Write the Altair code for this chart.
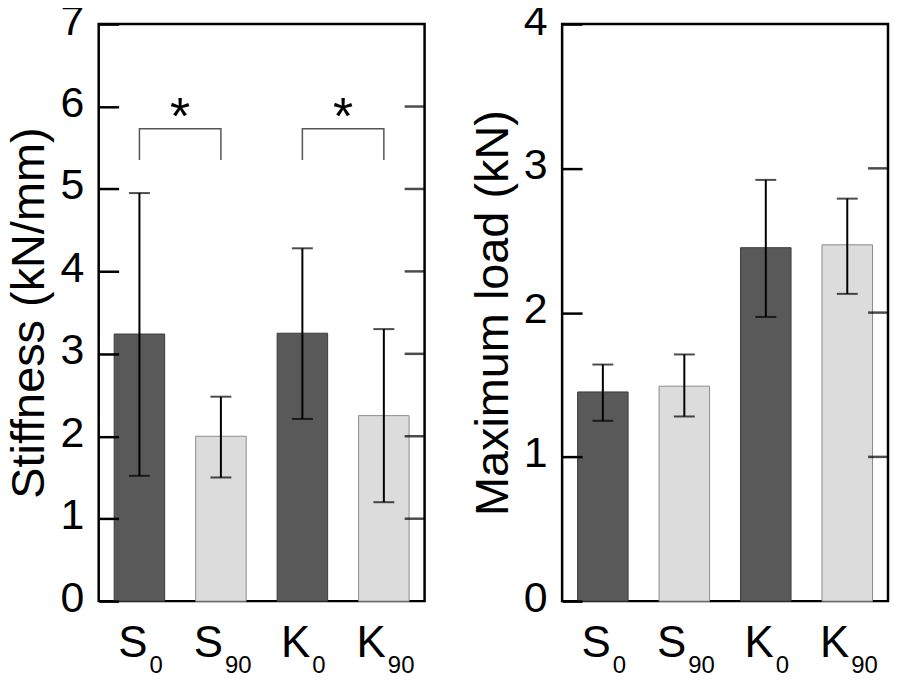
import altair as alt
import pandas as pd

# ---------------- data ----------------
categories = ["S0", "S90", "K0", "K90"]
label_main = ["S", "S", "K", "K"]
label_sub = ["0", "90", "0", "90"]
group = ["0", "90", "0", "90"]

stiff_mean = [3.24, 2.00, 3.25, 2.25]
stiff_low = [1.52, 1.50, 2.21, 1.20]
stiff_high = [4.95, 2.48, 4.28, 3.30]

load_mean = [1.45, 1.49, 2.45, 2.47]
load_low = [1.25, 1.28, 1.97, 2.13]
load_high = [1.64, 1.71, 2.92, 2.79]

stiff_ticks = [1, 2, 3, 4, 5, 6]
load_ticks = [1, 2, 3]

# significance brackets on the stiffness panel
brackets = [("S0", "S90"), ("K0", "K90")]
bracket_top = 5.73
bracket_bottom = 5.35
star_value = 5.73

# ---------------- layout / style ----------------
W, H = 327, 579
FONT = "Liberation Sans"
P_IN, P_OUT = 0.38, 0.19
STEP = W / (len(categories) - P_IN + 2 * P_OUT)
BW = STEP * (1 - P_IN)
TICK_LEN = 20


def panel(mean, low, high, ymax, ticks, title, with_brackets=False):
    df = pd.DataFrame({
        "cat": categories, "main": label_main, "sub": label_sub, "grp": group,
        "mean": mean, "low": low, "high": high,
    })
    # pixel offset (from band start) of the join between letter and subscript
    df["junction"] = [BW / 2 + (9 if len(s) == 1 else 3) for s in label_sub]

    x = alt.X("cat:N", sort=categories,
              scale=alt.Scale(paddingInner=P_IN, paddingOuter=P_OUT),
              axis=None)
    y_scale = alt.Scale(domain=[0, ymax], nice=False)
    base = alt.Chart(df)

    # left axis moved inside the frame so that its ticks point inward
    bars = base.mark_bar(strokeWidth=1).encode(
        x=x,
        y=alt.Y("mean:Q", scale=y_scale, title=title,
                axis=alt.Axis(values=list(range(ymax + 1)), format="d",
                              offset=-TICK_LEN, tickSize=TICK_LEN, tickWidth=2.5,
                              tickColor="black", ticks=True, zindex=2,
                              domain=False, grid=False,
                              labelFontSize=43, labelPadding=15, labelOffset=-3,
                              labelColor="black", labelFont=FONT,
                              titleFontSize=47, titleFontWeight="normal",
                              titleColor="black", titleFont=FONT,
                              titlePadding=6)),
        color=alt.Color("grp:N", scale=alt.Scale(domain=["0", "90"], range=["#595959", "#dcdcdc"]), legend=None),
        stroke=alt.Stroke("grp:N", scale=alt.Scale(domain=["0", "90"], range=["#3c3c3c", "#8c8c8c"]), legend=None),
    )

    err = base.mark_rule(color="black", strokeWidth=2).encode(
        x=x, y=alt.Y("low:Q", scale=y_scale), y2="high:Q")
    cap_lo = base.mark_tick(color="black", thickness=2, size=21, orient="horizontal").encode(
        x=x, y=alt.Y("low:Q", scale=y_scale))
    cap_hi = base.mark_tick(color="black", thickness=2, size=21, orient="horizontal").encode(
        x=x, y=alt.Y("high:Q", scale=y_scale))

    # inward-pointing y ticks on the right side of the frame
    edge = P_OUT * STEP  # distance from frame to first/last band
    tdf = pd.DataFrame({"v": ticks, "cat": [categories[-1]] * len(ticks)})
    tdf["off"] = BW + edge - TICK_LEN / 2
    inner_ticks = alt.Chart(tdf).mark_tick(color="black", thickness=2.5, size=TICK_LEN,
                                           orient="horizontal").encode(
        x=x, xOffset=alt.XOffset("off:Q", scale=None),
        y=alt.Y("v:Q", scale=y_scale))

    main_txt = base.mark_text(fontSize=44, align="right", baseline="alphabetic",
                              font=FONT, color="black", dx=-1).encode(
        x=x, xOffset=alt.XOffset("junction:Q", scale=None),
        y=alt.value(H + 56), text="main:N")
    sub_txt = base.mark_text(fontSize=24, align="left", baseline="alphabetic",
                             font=FONT, color="black", dx=1).encode(
        x=x, xOffset=alt.XOffset("junction:Q", scale=None),
        y=alt.value(H + 72), text="sub:N")

    layers = [bars, err, cap_lo, cap_hi, inner_ticks, main_txt, sub_txt]

    if with_brackets:
        rows = []
        for i, (a, b) in enumerate(brackets):
            rows += [
                {"id": i, "cat": a, "v": bracket_bottom, "o": 0},
                {"id": i, "cat": a, "v": bracket_top, "o": 1},
                {"id": i, "cat": b, "v": bracket_top, "o": 2},
                {"id": i, "cat": b, "v": bracket_bottom, "o": 3},
            ]
        bdf = pd.DataFrame(rows)
        bline = alt.Chart(bdf).mark_line(color="#555555", strokeWidth=1.5).encode(
            x=x, y=alt.Y("v:Q", scale=y_scale), detail="id:N", order="o:Q")
        sdf = pd.DataFrame({"cat": [a for a, b in brackets], "v": [star_value] * len(brackets), "t": ["*"] * len(brackets)})
        star = alt.Chart(sdf).mark_text(fontSize=52, baseline="alphabetic", font=FONT,
                                        color="black", dx=STEP / 2, dy=5).encode(
            x=x, y=alt.Y("v:Q", scale=y_scale), text="t:N")
        layers += [bline, star]

    return alt.layer(*layers).properties(width=W, height=H)


left = panel(stiff_mean, stiff_low, stiff_high, 7, stiff_ticks, "Stiffness (kN/mm)", True)
right = panel(load_mean, load_low, load_high, 4, load_ticks, "Maximum load (kN)")

chart = alt.hconcat(left, right, spacing=41).properties(
    padding={"left": -4, "top": -11, "right": 0, "bottom": 0}
).configure(font=FONT).configure_view(stroke="black", strokeWidth=2.5)

chart.save("out.html", embed_options={"renderer": "svg", "actions": False})
